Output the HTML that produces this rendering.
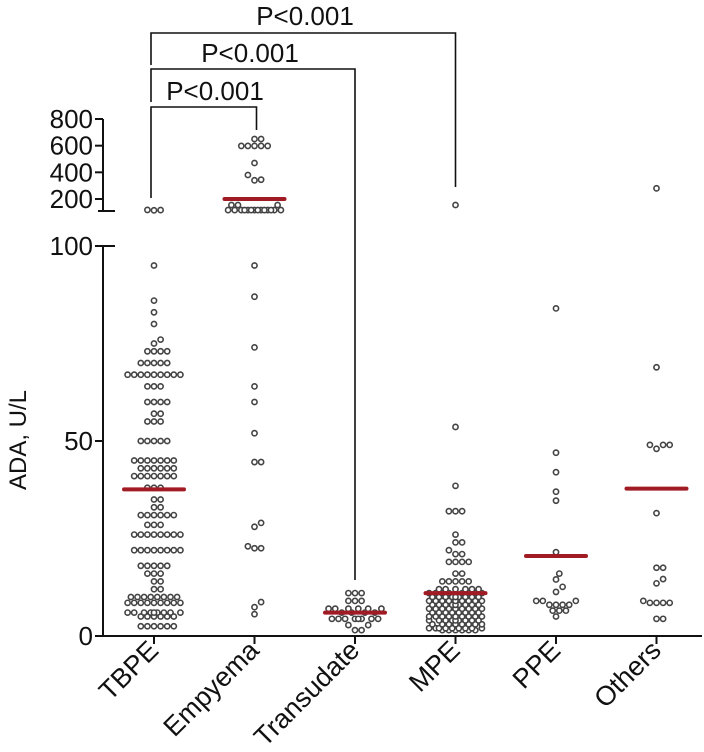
<!DOCTYPE html>
<html><head><meta charset="utf-8"><style>
html,body{margin:0;padding:0;background:#fff;}
svg{display:block;font-family:"Liberation Sans",Arial,sans-serif;}
</style></head><body>
<svg id="chart" width="704" height="752" viewBox="0 0 704 752"></svg>
<script>
const categories=["TBPE","Empyema","Transudate","MPE","PPE","Others"];
const tbpeValues=[117,115,118,95,86,83,80,75,76,73,73,73,73,70,70,70,70,70,67,67,67,67,67,67,67,67,67,64,64,64,60,60,60,60,57,57,55,55,55,50,50,50,50,50,45,45,45,45,45,45,45,43,43,43,43,43,43,41,41,41,41,41,41,41,38,38,38,35,35,33,33,31,31,31,31,31,31,28.5,28.5,28.5,26,26,26,26,26,26,26,26,22,22,22,22,22,22,22,22,18,18,18,18,18,16,16,16,14,14,12,12,10,10,10,10,10,10,10,10,8.5,8.5,8.5,8.5,8.5,8.5,8.5,8.5,8.5,6,6,6,6,6,6,6,6,6,5,5,5,5,5,5,2.5,2.5,2.5,2.5,2.5,2.5];
const empyemaValues=[650,650,598,598,598,598,598,470,380,340,345,155,155,155,117,117,117,117,117,117,117,117,117,117,117,117,117,117,95,87,74,64,60,52,44.6,44.6,29,28,23,22.5,22.5,8.7,7.4,5.6];
const transudateValues=[11,11,11,9,9,9,7,7,7,7,7,7,6,6,6,6,4.4,4.4,4.4,4.4,4.4,4.4,4.4,4.4,2.8,2.8,1.5,1.5];
const mpeValues=[155,53.6,38.5,32,32,32,26,24,24,22,21,21,19,19,19,19,16,16,14,14,14,14,14,12,12,12,12,12,12,11,11,11,11,11,11,11,11,10,10,10,10,10,10,10,10,10,9,9,9,9,9,9,9,9,9,8,8,8,8,8,8,8,8,8,7,7,7,7,7,7,7,7,7,6,6,6,6,6,6,6,6,5,5,5,5,5,5,5,5,5,4,4,4,4,4,4,4,4,4,3,3,3,3,3,3,3,3,2,2,2,2,2,2,2,2,2,1.5,1.5,1.5,1.5,1.5,1.5];
const ppeValues=[84,47,42,37,34.7,21.5,16,14.5,12.6,11.3,9,9,9,8,8,8,8,6.5,6.5,6.5,5];
const othersValues=[280,68.9,49,49,49,48,31.5,17.5,17.5,14.6,13.5,9,8.5,8.5,8.5,8.5,4.4,4.4];
const medians=[37.6,200,6,11,20.5,37.8];
const lowerTicks=[0,50,100];
const upperTicks=[200,400,600,800];
const seriesValues=[tbpeValues,empyemaValues,transudateValues,mpeValues,ppeValues,othersValues];

const NS="http://www.w3.org/2000/svg";
const svg=document.getElementById("chart");
const X0=103,XBASE=154,XSTEP=100.5;
function xScale(i){return XBASE+i*XSTEP;}
function yScale(v){return v<=100?636-v*3.9:199-(v-200)*0.13333;}
function mk(tag,attrs,parent){const e=document.createElementNS(NS,tag);for(const k in attrs)e.setAttribute(k,attrs[k]);(parent||svg).appendChild(e);return e;}

const ax=mk("g",{stroke:"#111","stroke-width":2,fill:"none"});


mk("line",{x1:X0,y1:246,x2:X0,y2:637},ax);
mk("line",{x1:X0,y1:119,x2:X0,y2:212},ax);
mk("line",{x1:X0-5,y1:211,x2:X0+12,y2:211},ax);
mk("line",{x1:X0-1,y1:636,x2:702,y2:636},ax);
lowerTicks.forEach(t=>{
  const y=yScale(t);
  mk("line",{x1:X0-8,y1:y,x2:t===100?X0+12:X0,y2:y},ax);
  const tx=mk("text",{x:X0-10,y:y+9,"text-anchor":"end","font-size":26,fill:"#111",stroke:"none"});
  
  
  tx.textContent=t;
});
upperTicks.forEach(t=>{
  const y=yScale(t);
  mk("line",{x1:X0-8,y1:y,x2:X0,y2:y},ax);
  const tx=mk("text",{x:X0-10,y:y+9,"text-anchor":"end","font-size":26,fill:"#111",stroke:"none"});
  
  
  tx.textContent=t;
});
const yt=mk("text",{x:0,y:0,transform:"translate(26,440) rotate(-90)","text-anchor":"middle","font-size":24,fill:"#111"});


yt.textContent="ADA, U/L";

categories.forEach((c,i)=>{
  const x=xScale(i);
  mk("line",{x1:x,y1:636,x2:x,y2:644},ax);
  const t=mk("text",{x:0,y:0,transform:`translate(${x+6},652) rotate(-45)`,"text-anchor":"end","font-size":27,fill:"#111",stroke:"none"});
  
  
  t.textContent=c;
});

// dots: bounded beeswarm (overlap allowed when crowded)
const D=6.6,HALF=28;
seriesValues.forEach((vals,i)=>{
  const cx=xScale(i);
  const g=mk("g",{fill:"#fff",stroke:"#444","stroke-width":1.6});
  
  
  const placed=[];
  const sorted=vals.slice().sort((a,b)=>a-b);
  sorted.forEach(v=>{
    const y=yScale(v);
    let best=null,bestScore=-1;
    for(let k=0;k<=16;k++){
      const off=(k%2?1:-1)*Math.ceil(k/2)*D*0.5;
      if(Math.abs(off)>HALF)continue;
      const x=cx+off;
      let md=99;
      placed.forEach(p=>{md=Math.min(md,Math.hypot(p[0]-x,p[1]-y));});
      if(md>=D-0.3){best=x;bestScore=99;break;}
      if(md>bestScore+0.5){bestScore=md;best=x;}
    }
    placed.push([best,y]);
    const c=mk("circle",{cx:best,cy:y,r:2.6},g);
    
    
  });
  const m=mk("line",{x1:cx-30,y1:yScale(medians[i]),x2:cx+30,y2:yScale(medians[i]),stroke:"#a11b24","stroke-width":4,"stroke-linecap":"round"});
  
  
});

const br=[[0,1,107,198,130,100,215],[0,2,69,102,580,62,250],[0,3,33,65,187,25,305]];
br.forEach(b=>{
  const x1=xScale(b[0])-3,x2=xScale(b[1])+(b[1]===1?2:0);
  const g=mk("g",{});
  
  
  mk("path",{d:`M${x1},${b[3]} V${b[2]} H${x2} V${b[4]}`,fill:"none",stroke:"#111","stroke-width":1.6},g);
  const t=mk("text",{x:b[6],y:b[5],"text-anchor":"middle","font-size":26,fill:"#111"},g);
  
  
  t.textContent="P<0.001";
});
</script>
</body></html>
